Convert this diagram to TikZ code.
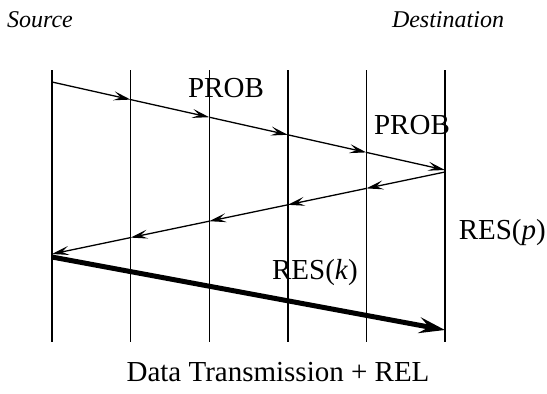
\documentclass[tikz,border=0pt]{standalone}
\usepackage{fontspec}
\setmainfont{Liberation Serif}
\usetikzlibrary{calc,arrows.meta}
\begin{document}
\begin{tikzpicture}[x=1pt,y=-1pt,>={Stealth[length=17pt,width=9pt,inset=7pt]},
  lbl/.style={font=\fontsize{29}{32}\selectfont,inner sep=0pt},
  endpt/.style={font=\fontsize{24}{27}\selectfont\itshape,inner sep=0pt}]
\useasboundingbox (0,0) rectangle (547,394);
% nodes along the path
\foreach \i in {0,...,5} {
  \coordinate (t\i) at (52+\i*78.6,70);
  \coordinate (b\i) at (52+\i*78.6,342);
  \draw[line width=1.4pt] (t\i) -- (b\i);
}
% probe going forward
\foreach \i in {0,...,5}
  \coordinate (f\i) at (52+\i*78.6,82+\i*17.6);
\foreach \i [count=\j] in {0,...,4}
  \draw[->,line width=1.3pt] (f\i) -- (f\j);
% response coming back
\foreach \i in {0,...,5}
  \coordinate (r\i) at (445-\i*78.6,172+\i*16.4);
\foreach \i [count=\j] in {0,...,4}
  \draw[->,line width=1.3pt] (r\i) -- (r\j);
% data transmission
\coordinate (d0) at (52,257);
\coordinate (d1) at (445,330);
\draw[line width=5pt,-{Stealth[length=26pt,width=16pt,inset=10pt]}] (d0) -- (d1);
% labels
\node[endpt] (src) at (40,20) {Source};
\node[endpt] (dst) at (448,20) {Destination};
\node[lbl] (probA) at (226,88) {PROB};
\node[lbl] (probB) at (412,125) {PROB};
\node[lbl,anchor=east] (resp) at (546,233) {RES(\textit{p})};
\node[lbl] (resk) at (315,273) {RES(\textit{k})};
\node[lbl] (data) at (278,372) {Data Transmission + REL};
\end{tikzpicture}
\end{document}
